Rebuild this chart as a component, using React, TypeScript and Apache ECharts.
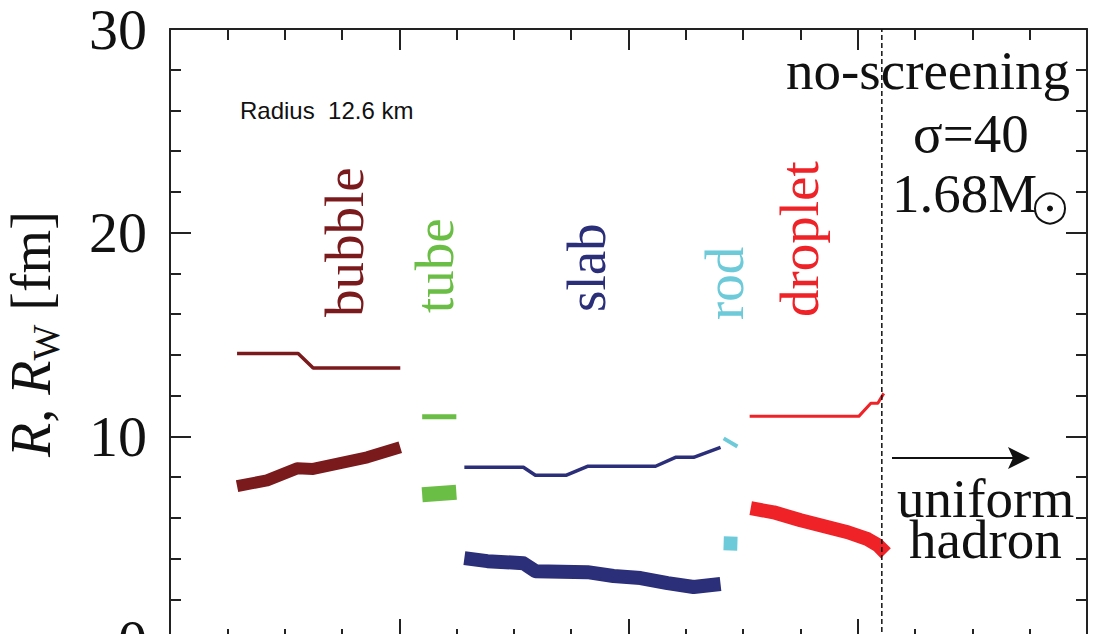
import React, { useEffect, useRef } from "react";
import * as echarts from "echarts";

// x: radial coordinate r [km] (labels cut off in the reference), y: R, R_W [fm]
const X_MIN = 0;
const X_MAX = 8;
const X_INTERVAL = 2;
const Y_MIN = 0;
const Y_MAX = 30;
const Y_INTERVAL = 10;

const bubbleRW: number[][] = [[0.585, 14.07], [1.118, 14.07], [1.249, 13.35], [2.009, 13.35]];
const bubbleR: number[][] = [[0.585, 7.55], [0.847, 7.84], [1.109, 8.43], [1.249, 8.4], [1.721, 8.97], [2.009, 9.46]];
const tubeRW: number[][] = [[2.2, 10.96], [2.498, 10.96]];
const tubeR: number[][] = [[2.2, 7.13], [2.498, 7.25]];
const slabRW: number[][] = [[2.568, 8.48], [3.083, 8.48], [3.188, 8.09], [3.459, 8.09], [3.642, 8.53], [4.236, 8.53], [4.41, 8.97], [4.568, 8.97], [4.803, 9.46]];
const slabR: number[][] = [[2.568, 4.02], [2.769, 3.87], [3.083, 3.77], [3.188, 3.38], [3.642, 3.33], [3.869, 3.14], [4.105, 3.04], [4.341, 2.79], [4.568, 2.6], [4.803, 2.75]];
const rodRW: number[][] = [[4.83, 9.9], [4.95, 9.5]];
const rodR: number[][] = [[4.83, 4.75], [4.95, 4.73]];
const dropletRW: number[][] = [[5.057, 10.98], [6.009, 10.98], [6.114, 11.62], [6.175, 11.62], [6.227, 12.11]];
const dropletR: number[][] = [[5.066, 6.47], [5.266, 6.27], [5.502, 5.88], [5.913, 5.29], [6.087, 4.95], [6.175, 4.66], [6.245, 4.26]];
const boundary: number[][] = [[6.21, 0], [6.21, 30]];

const phaseNames = ["bubble", "tube", "slab", "rod", "droplet"];
const phaseColors = ["#7a1a1c", "#6bbe45", "#2b2e78", "#6ccad9", "#ee2227"];

const SERIF = "'Liberation Serif', 'Times New Roman', serif";
const SANS = "'Liberation Sans', Arial, sans-serif";
const FS = 55;
const CENTRAL = 0.3375; // central-baseline offset (em)
const CHART_H = 680; // taller than the window: the bottom of the frame is cut off as in the reference

function measure(text: string, font: string): number {
  const c = document.createElement("canvas").getContext("2d");
  if (!c) return text.length * 20;
  c.font = font;
  return c.measureText(text).width;
}

export default function App() {
  const ref = useRef<HTMLDivElement>(null);
  useEffect(() => {
    if (!ref.current) return;
    const chart = echarts.init(ref.current, undefined, { renderer: "svg" });

    const line = (data: number[][], color: string, width: number, name: string) => ({
      type: "line",
      name,
      data,
      showSymbol: false,
      symbol: "none",
      silent: true,
      lineStyle: { color, width, cap: "butt", join: "round" },
    });

    const phaseX = [363, 453, 605, 743, 818];
    const phaseY = [317, 313, 312, 320, 317];
    const phaseTexts = phaseNames.map((n, i) => ({
      type: "text",
      x: phaseX[i] - CENTRAL * FS,
      y: phaseY[i],
      rotation: Math.PI / 2,
      silent: true,
      style: {
        text: n,
        fill: phaseColors[i],
        font: `${FS}px ${SERIF}`,
        align: "left",
        verticalAlign: "middle",
      },
    }));

    const tfs = 56;
    const subFs = 38;
    const pieces = [
      { t: "R", font: `italic ${tfs}px ${SERIF}`, base: 50, fs: tfs },
      { t: ", ", font: `${tfs}px ${SERIF}`, base: 50, fs: tfs },
      { t: "R", font: `italic ${tfs}px ${SERIF}`, base: 50, fs: tfs },
      { t: "W", font: `${subFs}px ${SERIF}`, base: 59, fs: subFs },
      { t: " [fm]", font: `${tfs}px ${SERIF}`, base: 50, fs: tfs },
    ];
    let cy = 457;
    const titleTexts = pieces.map((p) => {
      const el = {
        type: "text",
        x: p.base - CENTRAL * p.fs,
        y: cy,
        rotation: Math.PI / 2,
        silent: true,
        style: { text: p.t, fill: "#111", font: p.font, align: "left", verticalAlign: "middle" },
      };
      cy -= measure(p.t, p.font);
      return el;
    });

    const hText = (text: string, left: number, baseline: number, font: string, fs: number, off = CENTRAL) => ({
      type: "text",
      x: left,
      y: baseline - off * fs,
      silent: true,
      style: { text, fill: "#111", font, align: "left", verticalAlign: "middle" },
    });

    const axisCommon = {
      type: "value",
      axisLine: { show: true, onZero: false, lineStyle: { color: "#222", width: 2 } },
      axisTick: { show: true, inside: true, length: 21, lineStyle: { color: "#222", width: 2 } },
      splitLine: { show: false },
    };

    const option: any = {
      animation: false,
      backgroundColor: "#fff",
      grid: { left: 170, right: 9, top: 29, bottom: CHART_H - 640, containLabel: false },
      xAxis: [
        {
          ...axisCommon,
          min: X_MIN,
          max: X_MAX,
          interval: X_INTERVAL,
          position: "bottom",
          minorTick: { show: true, splitNumber: 4, length: 11, lineStyle: { color: "#222", width: 2 } },
          axisLabel: { show: false },
        },
        {
          ...axisCommon,
          min: X_MIN,
          max: X_MAX,
          interval: X_INTERVAL,
          position: "top",
          minorTick: { show: true, splitNumber: 4, length: 11, lineStyle: { color: "#222", width: 2 } },
          axisLabel: { show: false },
        },
      ],
      yAxis: [
        {
          ...axisCommon,
          min: Y_MIN,
          max: Y_MAX,
          interval: Y_INTERVAL,
          position: "left",
          minorTick: { show: true, splitNumber: 5, length: 11, lineStyle: { color: "#222", width: 2 } },
          axisLabel: { show: true, margin: 23, fontSize: 58, fontFamily: SERIF, color: "#111", padding: [4, 0, 0, 0] },
        },
        {
          ...axisCommon,
          min: Y_MIN,
          max: Y_MAX,
          interval: Y_INTERVAL,
          position: "right",
          minorTick: { show: true, splitNumber: 5, length: 11, lineStyle: { color: "#222", width: 2 } },
          axisLabel: { show: false },
        },
      ],
      series: [
        line(bubbleRW, phaseColors[0], 3.5, "bubble R_W"),
        line(bubbleR, phaseColors[0], 12, "bubble R"),
        line(tubeRW, phaseColors[1], 5, "tube R_W"),
        line(tubeR, phaseColors[1], 15, "tube R"),
        line(slabRW, phaseColors[2], 3.5, "slab R_W"),
        line(slabR, phaseColors[2], 14, "slab R"),
        line(rodRW, phaseColors[3], 4, "rod R_W"),
        line(rodR, phaseColors[3], 14, "rod R"),
        line(dropletRW, phaseColors[4], 3, "droplet R_W"),
        line(dropletR, phaseColors[4], 14, "droplet R"),
        {
          type: "line",
          name: "boundary",
          data: boundary,
          showSymbol: false,
          symbol: "none",
          silent: true,
          lineStyle: { color: "#111", width: 1.5, type: [5, 3] },
        },
      ],
      graphic: [
        ...phaseTexts,
        ...titleTexts,
        hText("Radius  12.6 km", 240, 119, `24px ${SANS}`, 24, 0.3465),
        hText("no-screening", 786, 89, `${FS}px ${SERIF}`, FS),
        hText("σ=40", 913, 152, `${FS}px ${SERIF}`, FS),
        hText("1.68M", 892, 212, `${FS}px ${SERIF}`, FS),
        hText("uniform", 897, 517, `${FS}px ${SERIF}`, FS),
        hText("hadron", 909, 558, `${FS}px ${SERIF}`, FS),
        {
          type: "circle",
          silent: true,
          shape: { cx: 1050, cy: 208.5, r: 15 },
          style: { fill: "none", stroke: "#111", lineWidth: 2 },
        },
        {
          type: "circle",
          silent: true,
          shape: { cx: 1050, cy: 208.5, r: 3 },
          style: { fill: "#111" },
        },
        {
          type: "line",
          silent: true,
          shape: { x1: 892, y1: 458, x2: 1016, y2: 458 },
          style: { stroke: "#111", lineWidth: 2 },
        },
        {
          type: "polygon",
          silent: true,
          shape: { points: [[1030, 458], [1008, 447], [1013, 458], [1008, 469]] },
          style: { fill: "#111" },
        },
      ],
    };

    chart.setOption(option);
    return () => chart.dispose();
  }, []);

  return (
    <div
      ref={ref}
      style={{ position: "fixed", left: 0, top: 0, width: 1096, height: CHART_H, background: "#fff" }}
    />
  );
}
